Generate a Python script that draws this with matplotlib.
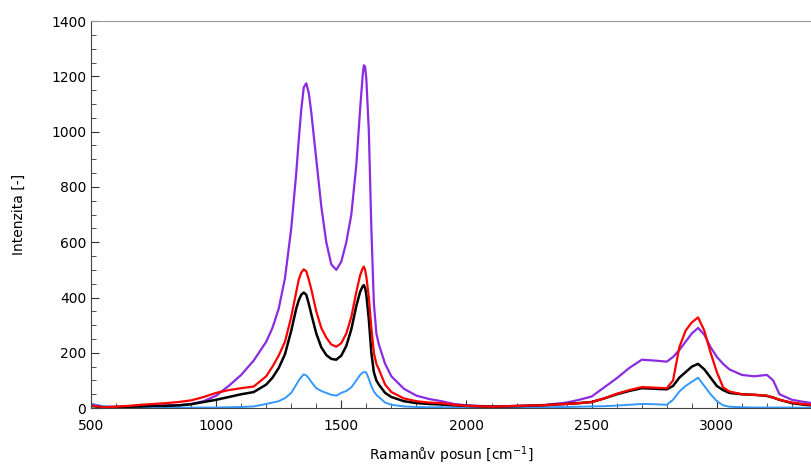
import numpy as np
import matplotlib
matplotlib.use("Agg")
import matplotlib.pyplot as plt
from matplotlib.ticker import MultipleLocator

# Raman shift grid [cm-1]
shift = [500, 550, 600, 650, 700, 750, 800, 850, 900, 950,
         1000, 1050, 1100, 1150, 1200, 1225, 1250, 1275, 1300, 1320,
         1330, 1340, 1350, 1360, 1370, 1380, 1400, 1420, 1440, 1460,
         1480, 1500, 1520, 1540, 1560, 1575, 1585, 1590, 1595, 1600,
         1610, 1620, 1630, 1640, 1650, 1675, 1700, 1750, 1800, 1850,
         1900, 1950, 2000, 2100, 2200, 2300, 2400, 2450, 2500, 2550,
         2600, 2650, 2700, 2750, 2800, 2825, 2850, 2875, 2900, 2925,
         2950, 2975, 3000, 3025, 3050, 3100, 3150, 3200, 3225, 3250,
         3300, 3350, 3400]

purple = [15, 5, 4, 6, 5, 8, 10, 10, 15, 25,
          45, 80, 120, 172, 240, 290, 360, 470, 650, 850,
          970, 1080, 1160, 1175, 1140, 1070, 900, 730, 600, 520,
          500, 530, 600, 700, 880, 1080, 1200, 1240, 1235, 1190,
          1000, 650, 380, 270, 230, 160, 115, 70, 45, 33,
          25, 15, 10, 6, 8, 10, 20, 30, 42, 75,
          108, 145, 175, 172, 168, 185, 210, 240, 270, 290,
          265, 220, 185, 160, 140, 120, 115, 120, 100, 50,
          30, 22, 15]

red = [10, 3, 5, 8, 12, 15, 18, 22, 28, 40,
       55, 65, 72, 78, 115, 150, 190, 240, 330, 420,
       465, 490, 502, 495, 465, 430, 350, 290, 255, 230,
       222, 235, 270, 330, 420, 480, 505, 512, 500, 475,
       400, 290, 200, 160, 140, 85, 58, 35, 25, 20,
       18, 12, 8, 5, 8, 10, 15, 18, 22, 35,
       52, 65, 76, 74, 72, 100, 220, 280, 310, 328,
       280, 200, 130, 75, 60, 50, 48, 45, 38, 30,
       20, 14, 10]

black = [8, 3, 4, 5, 6, 8, 8, 10, 14, 22,
         30, 40, 50, 58, 85, 110, 145, 195, 280, 360,
         390, 410, 418, 410, 378, 340, 270, 220, 192, 178,
         175, 190, 225, 285, 370, 420, 440, 445, 435, 410,
         320, 200, 130, 100, 85, 55, 40, 25, 18, 15,
         13, 10, 8, 5, 7, 10, 15, 18, 22, 35,
         50, 62, 72, 70, 68, 80, 110, 130, 150, 160,
         140, 110, 80, 65, 55, 50, 48, 44, 38, 30,
         18, 12, 8]

blue = [15, 6, 3, 2, 2, 2, 2, 2, 2, 2,
        2, 3, 4, 6, 15, 20, 25, 36, 55, 85,
        100, 112, 122, 118, 108, 95, 72, 62, 55, 48,
        45, 55, 62, 75, 100, 120, 128, 130, 131, 128,
        105, 80, 60, 48, 40, 20, 12, 6, 4, 3,
        3, 2, 2, 2, 2, 3, 4, 5, 6, 7,
        9, 12, 15, 14, 12, 30, 60, 80, 95, 110,
        80, 50, 25, 10, 5, 3, 2, 2, 2, 2,
        2, 1, 1]

fig = plt.figure(figsize=(8.12, 4.68), dpi=100)
ax = fig.add_axes([0.112, 0.128, 0.888, 0.827])

ax.plot(shift, purple, color='#8a2be2', lw=1.6)
ax.plot(shift, blue, color='#3399ff', lw=1.4)
ax.plot(shift, black, color='black', lw=1.8)
ax.plot(shift, red, color='#ff0000', lw=1.6)

ax.set_xlim(500, 3380)
ax.set_ylim(0, 1400)
ax.xaxis.set_major_locator(MultipleLocator(500))
ax.xaxis.set_minor_locator(MultipleLocator(100))
ax.yaxis.set_major_locator(MultipleLocator(200))
ax.yaxis.set_minor_locator(MultipleLocator(50))
ax.tick_params(which='both', direction='in', labelsize=10, colors='#333333', labelcolor='black')
ax.tick_params(which='major', length=6)
ax.tick_params(which='minor', length=3.5)
ax.tick_params(axis='x', pad=8)

ax.spines['right'].set_visible(False)
ax.spines['top'].set_color('#999999')
ax.spines['left'].set_color('#444444')
ax.spines['bottom'].set_color('#444444')

ax.set_xlabel('Ramanův posun [cm$^{-1}$]', fontsize=10, labelpad=8)
ax.set_ylabel('Intenzita [-]', fontsize=10, labelpad=18)

fig.savefig('out.png', dpi=100)
